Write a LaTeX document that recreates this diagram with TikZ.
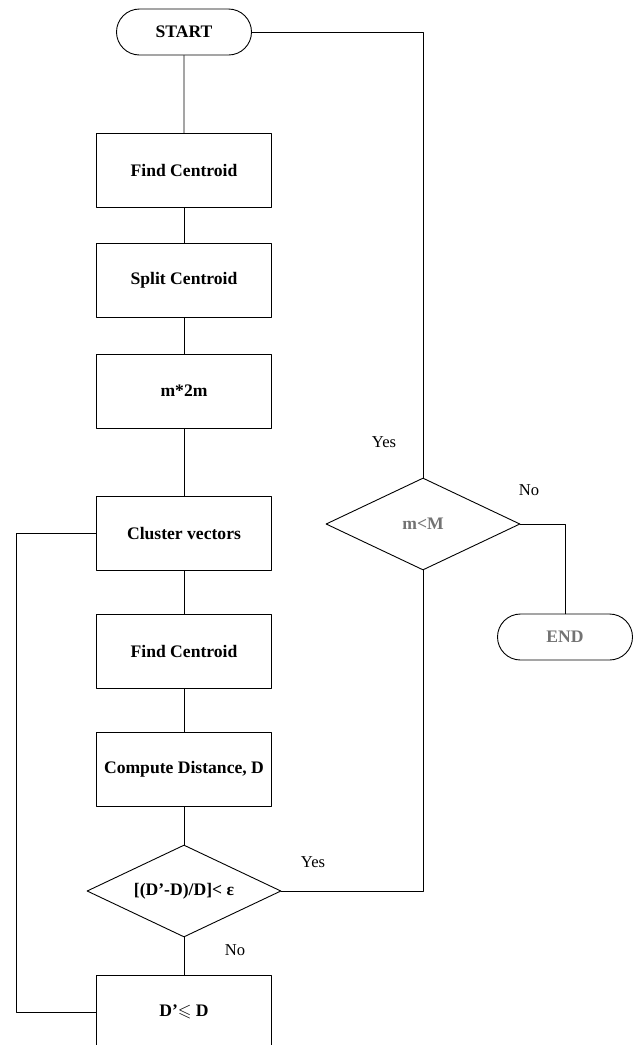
\documentclass[tikz,border=0pt]{standalone}
\usepackage{amssymb}
\usepackage{fontspec}
\setmainfont{Liberation Serif}
\usetikzlibrary{shapes.geometric,shapes.misc}
\begin{document}
\begin{tikzpicture}[x=1pt, y=-1pt, line width=0.9pt, line join=round, line cap=round,
	procbox/.style={draw, rectangle, minimum width=175pt, minimum height=74pt, inner sep=0pt, font=\fontsize{17.6}{20}\selectfont\bfseries},
	termbox/.style={draw, rounded rectangle, minimum width=135pt, minimum height=46pt, inner sep=0pt, font=\fontsize{17.6}{20}\selectfont\bfseries},
	decbox/.style={draw, diamond, aspect=2.1, minimum width=194pt, minimum height=92pt, inner sep=0pt, font=\fontsize{17.6}{20}\selectfont\bfseries},
	lbl/.style={font=\fontsize{16.6}{19}\selectfont}]
	\useasboundingbox (0,0) rectangle (635,1045);
	\node[termbox] (start) at (184,32) {START};
	\node[procbox] (fc1) at (184,170) {Find Centroid};
	\node[procbox] (split) at (184,280) {Split Centroid};
	\node[procbox] (mm) at (184,391) {m*2m};
	\node[procbox] (clus) at (184,533) {Cluster vectors};
	\node[procbox] (fc2) at (184,651) {Find Centroid};
	\node[procbox] (comp) at (184,769) {Compute Distance, D};
	\node[decbox] (dec) at (184,891) {[(D’-D)/D]< ε};
	\node[procbox] (dle) at (184,1012) {D’$\leqslant$ D};
	\node[decbox, text=black!55] (mcmp) at (423,524) {m<M};
	\node[termbox, text=black!55] (endn) at (565,637) {END};
	\node[lbl] (yes1) at (384,442) {Yes};
	\node[lbl] (no1) at (529,490) {No};
	\node[lbl] (yes2) at (313,862) {Yes};
	\node[lbl] (no2) at (235,950) {No};
	\draw (start) -- (fc1);
	\draw (fc1) -- (split);
	\draw (split) -- (mm);
	\draw (mm) -- (clus);
	\draw (clus) -- (fc2);
	\draw (fc2) -- (comp);
	\draw (comp) -- (dec);
	\draw (dec) -- (dle);
	\draw (dle.west) -- ++(-80,0) |- (clus.west);
	\draw (dec.east) -| (mcmp.south);
	\draw (mcmp.north) |- (start.east);
	\draw (mcmp.east) -| (endn.north);
\end{tikzpicture}
\end{document}
